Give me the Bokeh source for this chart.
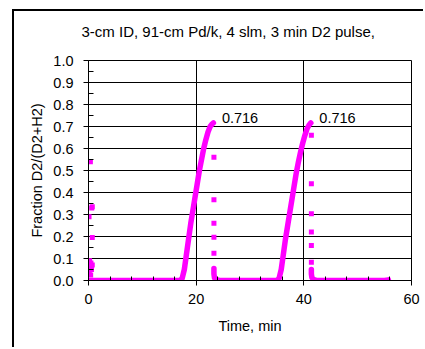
from bokeh.plotting import figure
from bokeh.models import FixedTicker, PrintfTickFormatter, ColumnDataSource, Title
from bokeh.core.properties import value
from bokeh.embed import file_html
from bokeh.resources import INLINE

# ---------------- data ----------------
title_text = "3-cm ID, 91-cm Pd/k, 4 slm, 3 min D2 pulse,"
x_label = "Time, min"
y_label = "Fraction D2/(D2+H2)"

# scattered points right at the start
start_t = [0.35, 0.7, 0.6, 0.1, 0.7, 0.2, 0.45, 0.7, 0.3, 0.55, 0.15, 0.4]
start_f = [0.54, 0.335, 0.33, 0.29, 0.195, 0.09, 0.08, 0.07, 0.06, 0.05, 0.04, 0.025]

# baseline + first rise (dense samples, drawn as continuous trace)
seg1_t = [0.0, 2.0, 4.0, 6.0, 8.0, 10.0, 12.0, 14.0, 16.0, 17.0, 17.4, 17.8, 18.2,
          18.6, 19.0, 19.4, 19.8, 20.2, 20.6, 21.0, 21.4, 21.8, 22.2, 22.6, 23.0, 23.2]
seg1_f = [0.0, 0.0, 0.0, 0.0, 0.0, 0.0, 0.0, 0.0, 0.0, 0.0, 0.01, 0.05, 0.12,
          0.19, 0.26, 0.32, 0.38, 0.44, 0.50, 0.55, 0.60, 0.64, 0.675, 0.70, 0.712, 0.716]

# first fall (sparse points)
drop1_t = [23.3, 23.3, 23.3, 23.3, 23.3]
drop1_f = [0.56, 0.367, 0.26, 0.197, 0.124]

# tail + baseline + second rise
seg2_t = [23.3, 23.3, 23.4, 23.7, 24.2, 25.0, 27.0, 29.0, 31.0, 33.0, 35.0, 35.4, 35.8,
          36.2, 36.6, 37.0, 37.4, 37.8, 38.2, 38.6, 39.0, 39.4, 39.8, 40.2, 40.6, 41.0, 41.3]
seg2_f = [0.055, 0.03, 0.012, 0.004, 0.001, 0.0, 0.0, 0.0, 0.0, 0.0, 0.0, 0.01, 0.05,
          0.12, 0.19, 0.25, 0.31, 0.37, 0.43, 0.49, 0.54, 0.585, 0.625, 0.66, 0.69, 0.708, 0.716]

# second fall (sparse points)
drop2_t = [41.4, 41.4, 41.4, 41.4, 41.4, 41.4]
drop2_f = [0.66, 0.44, 0.303, 0.22, 0.159, 0.083]

# tail + final baseline
seg3_t = [41.4, 41.4, 41.5, 41.8, 42.3, 43.0, 45.0, 47.0, 49.0, 51.0, 53.0, 55.0, 55.7]
seg3_f = [0.05, 0.03, 0.013, 0.005, 0.001, 0.0, 0.0, 0.0, 0.0, 0.0, 0.0, 0.0, 0.003]

# peak labels
peak_t = [23.2, 41.3]
peak_f = [0.716, 0.716]
peak_text = ["0.716", "0.716"]

y_ticks = [0.0, 0.1, 0.2, 0.3, 0.4, 0.5, 0.6, 0.7, 0.8, 0.9, 1.0]
y_minor = [0.05, 0.15, 0.25, 0.35, 0.45, 0.55, 0.65, 0.75, 0.85, 0.95]
x_ticks = [0, 20, 40, 60]
x_minor = [4, 8, 12, 16, 24, 28, 32, 36, 44, 48, 52, 56]

# ---------------- figure ----------------
FONT = "Liberation Sans"
FS = "14.5px"
MAG = "#FF00FF"

p = figure(width=411, height=338, x_range=(0, 60), y_range=(0, 1), title=None,
           output_backend="svg", toolbar_location=None,
           min_border_left=74, min_border_right=14, min_border_top=49, min_border_bottom=69)
# outer chart-area border (top and left edges visible, the rest lies outside the window)
p.margin = (9, 0, 0, 12)
p.styles = {"border-left": "2px solid black", "border-top": "2px solid black"}

p.background_fill_color = "white"
p.border_fill_color = "white"
p.outline_line_color = "black"
p.outline_line_width = 1

# spacer panel between frame and title, then the title itself
p.add_layout(Title(text=" ", text_font_size="2px", standoff=17), "above")
p.add_layout(Title(text=title_text, align="left", offset=-7, standoff=0,
                   text_font=FONT, text_font_size="15px", text_font_style="normal",
                   text_color="black"), "above")

p.xaxis.ticker = FixedTicker(ticks=x_ticks, minor_ticks=x_minor)
p.yaxis.ticker = FixedTicker(ticks=y_ticks, minor_ticks=y_minor)
p.yaxis.formatter = PrintfTickFormatter(format="%.1f")

for ax in (p.xaxis[0], p.yaxis[0]):
    ax.axis_line_color = "black"
    ax.major_tick_line_color = "black"
    ax.minor_tick_line_color = "black"
    ax.major_tick_in = 0
    ax.major_tick_out = 5
    ax.minor_tick_out = 0
    ax.minor_tick_in = 5
    ax.major_label_text_font = FONT
    ax.major_label_text_font_size = FS
    ax.major_label_text_color = "black"
    ax.axis_label_text_font = FONT
    ax.axis_label_text_font_size = FS
    ax.axis_label_text_font_style = "normal"
    ax.axis_label_text_color = "black"

p.xaxis.axis_label = x_label
p.yaxis.axis_label = y_label
p.xaxis.major_label_standoff = 8
p.xaxis.axis_label_standoff = 11
p.xaxis.minor_tick_in = 4
p.yaxis.major_label_standoff = 10
p.yaxis.axis_label_standoff = 5

p.xgrid.ticker = FixedTicker(ticks=x_ticks)
p.ygrid.ticker = FixedTicker(ticks=y_ticks)
p.xgrid.grid_line_color = "black"
p.ygrid.grid_line_color = "black"
p.xgrid.grid_line_width = 1
p.ygrid.grid_line_width = 1

# traces
for ts, fs in ((seg1_t, seg1_f), (seg2_t, seg2_f), (seg3_t, seg3_f)):
    p.line(ts, fs, line_color=MAG, line_width=5.5, line_join="round", line_cap="round")

p.scatter(start_t, start_f, marker="square", size=5, fill_color=MAG, line_color=MAG, line_width=0)
p.scatter(drop1_t, drop1_f, marker="square", size=5, fill_color=MAG, line_color=MAG, line_width=0)
p.scatter(drop2_t, drop2_f, marker="square", size=5, fill_color=MAG, line_color=MAG, line_width=0)

lab_src = ColumnDataSource(dict(x=peak_t, y=peak_f, text=peak_text))
p.text(x="x", y="y", text="text", source=lab_src, x_offset=8.5, y_offset=0,
       text_font=value(FONT), text_font_size=FS, text_color="black",
       text_align="left", text_baseline="bottom")

open("out.html", "w").write(file_html(p, INLINE))
